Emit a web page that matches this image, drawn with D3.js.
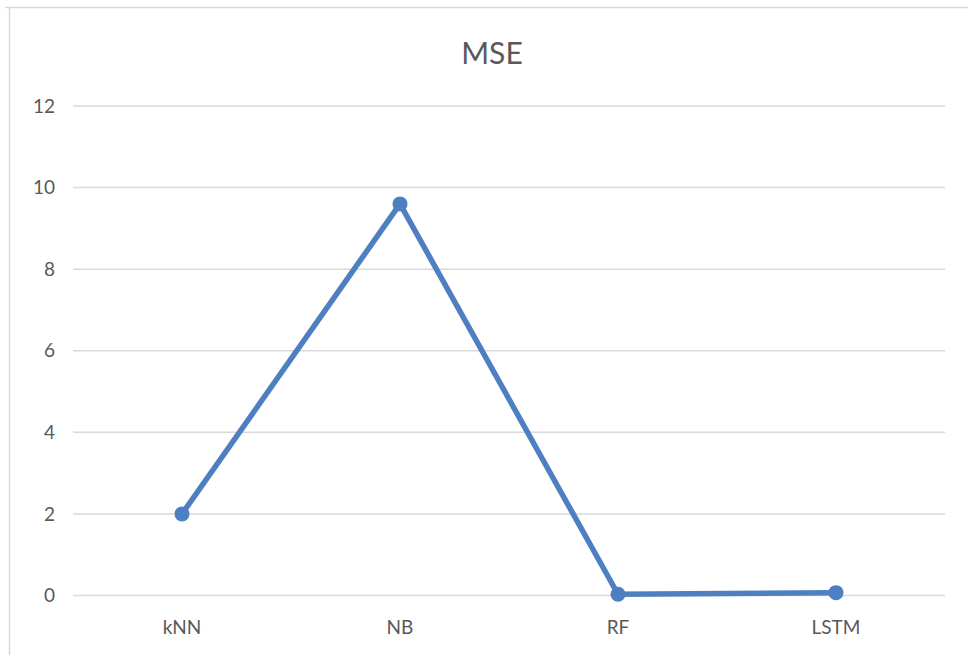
<!DOCTYPE html>
<html>
<head>
<meta charset="utf-8">
<script src="https://cdn.jsdelivr.net/npm/d3@7"></script>
<style>
  html, body { margin: 0; padding: 0; background: #ffffff; }
  svg { display: block; }
</style>
</head>
<body>
<svg id="chart" width="968" height="655"></svg>
<script>
// Model names and their mean squared error
const categories = ["kNN", "NB", "RF", "LSTM"];
const mseValues = [2.0, 9.6, 0.03, 0.07];
const yTicks = [0, 2, 4, 6, 8, 10, 12];
const chartTitle = "MSE";

const width = 968, height = 655;
const margin = { top: 106, right: 23, bottom: 59, left: 73 };
const fontStack = "Lato, 'Open Sans', sans-serif";

const svg = d3.select("#chart");

// Chart frame (top and left edges)
svg.append("line")
  .attr("x1", 5).attr("x2", width).attr("y1", 7.5).attr("y2", 7.5)
  .attr("stroke", "#d9d9d9").attr("stroke-width", 1.5);
svg.append("line")
  .attr("x1", 9.5).attr("x2", 9.5).attr("y1", 7).attr("y2", height)
  .attr("stroke", "#d9d9d9").attr("stroke-width", 1.5);

const x = d3.scaleBand()
  .domain(categories)
  .range([margin.left, width - margin.right]);

const y = d3.scaleLinear()
  .domain([0, 12])
  .range([height - margin.bottom - 0.5, margin.top]);

// Horizontal gridlines
svg.append("g")
  .selectAll("line")
  .data(yTicks)
  .join("line")
  .attr("x1", margin.left).attr("x2", width - margin.right)
  .attr("y1", d => y(d)).attr("y2", d => y(d))
  .attr("stroke", "#d9d9d9").attr("stroke-width", 1.5);

// Y axis labels
const yAxis = d3.axisLeft(y).tickValues(yTicks).tickSize(0).tickPadding(0);
const gy = svg.append("g")
  .attr("transform", `translate(${margin.left - 18},0)`)
  .call(yAxis);
gy.select(".domain").remove();
gy.selectAll("text")
  .attr("font-family", fontStack)
  .attr("font-size", 19)
  .attr("fill", "#595959");

// X axis labels
const xAxis = d3.axisBottom(x).tickSize(0).tickPadding(0);
const gx = svg.append("g")
  .attr("transform", `translate(0,${y(0) + 25})`)
  .call(xAxis);
gx.select(".domain").remove();
gx.selectAll("text")
  .attr("font-family", fontStack)
  .attr("font-size", 19)
  .attr("fill", "#595959");

// Title
svg.append("text")
  .attr("x", 492).attr("y", 64)
  .attr("text-anchor", "middle")
  .attr("font-family", fontStack)
  .attr("font-size", 30)
  .attr("fill", "#595959")
  .text(chartTitle);

const cx = (d, i) => x(categories[i]) + x.bandwidth() / 2;

// Series line
const line = d3.line()
  .x((d, i) => cx(d, i))
  .y(d => y(d));

svg.append("path")
  .datum(mseValues)
  .attr("d", line)
  .attr("fill", "none")
  .attr("stroke", "#4e7fc1")
  .attr("stroke-width", 5.5)
  .attr("stroke-linejoin", "round")
  .attr("stroke-linecap", "round");

// Markers
svg.append("g")
  .selectAll("circle")
  .data(mseValues)
  .join("circle")
  .attr("cx", (d, i) => cx(d, i))
  .attr("cy", d => y(d))
  .attr("r", 7.5)
  .attr("fill", "#4e7fc1");
</script>
</body>
</html>
